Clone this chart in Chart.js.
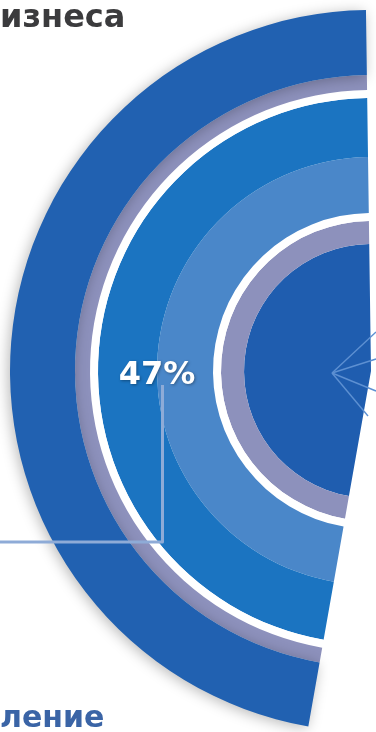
<!DOCTYPE html>
<html lang="ru">
<head>
<meta charset="utf-8">
<title>47%</title>
<script src="https://cdn.jsdelivr.net/npm/chart.js@4.4.1/dist/chart.umd.min.js"></script>
<style>
  html, body { margin: 0; padding: 0; width: 376px; height: 732px; overflow: hidden; background: #fff; }
  #wrap { position: relative; width: 376px; height: 732px; overflow: hidden; }
  #chart { position: absolute; left: 0; top: 0; }
  .title { position: absolute; left: 0; font-family: "DejaVu Sans", Verdana, sans-serif; font-weight: bold; line-height: 30px; white-space: nowrap; }
  #title-top { top: 1px; font-size: 32px; color: #3b3b3d; }
  #title-bottom { top: 702px; font-size: 30px; color: #3a64a6; }
</style>
</head>
<body>
<div id="wrap">
  <canvas id="chart" width="742" height="742"></canvas>
  <div class="title" id="title-top">изнеса</div>
  <div class="title" id="title-bottom">ление</div>
</div>
<script>
// share shown by the half-ring, the rest of the circle is left empty
const shareLabels = ["47%", ""];
const shareValues = [47, 53];

// rings from outside to centre: colour + thickness
const rings = [
  { color: "#2161b1", weight: 65 },
  { color: "#8d91bc", weight: 15 },
  { color: "#ffffff", weight: 8 },
  { color: "#1b74c1", weight: 59 },
  { color: "#4a87c9", weight: 56 },
  { color: "#ffffff", weight: 8 },
  { color: "#8d91bc", weight: 23 },
  { color: "#1f5daf", weight: 127 },
];
const LABEL_RING = 4;

const shadowPlugin = {
  id: "shadow",
  beforeDatasetDraw(chart, args) {
    if (args.index !== 0) return;
    const ctx = chart.ctx;
    ctx.save();
    ctx.shadowColor = "rgba(0, 0, 0, 0.28)";
    ctx.shadowBlur = 14;
    ctx.shadowOffsetX = -2;
    ctx.shadowOffsetY = 2;
  },
  afterDatasetDraw(chart, args) {
    if (args.index === 0) chart.ctx.restore();
  },
};

const labelPlugin = {
  id: "label",
  afterDraw(chart) {
    const ctx = chart.ctx;
    const arc = chart.getDatasetMeta(LABEL_RING).data[0];
    const { x, y, outerRadius } = arc.getProps(["x", "y", "outerRadius"], true);

    // thin fan lines in the centre circle
    ctx.save();
    ctx.strokeStyle = "#5d90d2";
    ctx.lineWidth = 1.4;
    const ox = x - 39, oy = y + 2;
    [[5, -39], [5, -12], [5, 20], [-3, 45]].forEach(([dx, dy]) => {
      ctx.beginPath();
      ctx.moveTo(ox, oy);
      ctx.lineTo(x + dx, y + dy);
      ctx.stroke();
    });
    ctx.restore();

    // label on the left side of the ring
    const lx = x - outerRadius;
    const ly = y;
    ctx.save();
    ctx.strokeStyle = "#8eabd7";
    ctx.lineWidth = 3;
    ctx.lineJoin = "round";
    ctx.beginPath();
    ctx.moveTo(lx + 5.5, ly + 14);
    ctx.lineTo(lx + 5.5, ly + 171);
    ctx.lineTo(-5, ly + 171);
    ctx.stroke();

    ctx.font = 'bold 32px "DejaVu Sans", Verdana, sans-serif';
    ctx.fillStyle = "#ffffff";
    ctx.textAlign = "center";
    ctx.textBaseline = "alphabetic";
    ctx.shadowColor = "rgba(0, 0, 0, 0.35)";
    ctx.shadowBlur = 3;
    ctx.shadowOffsetX = 1;
    ctx.shadowOffsetY = 1;
    ctx.fillText(shareLabels[0], lx, ly + 13);
    ctx.restore();
  },
};

new Chart(document.getElementById("chart"), {
  type: "doughnut",
  data: {
    labels: shareLabels,
    datasets: rings.map((ring) => ({
      data: shareValues,
      backgroundColor: [ring.color, "rgba(0, 0, 0, 0)"],
      borderWidth: 0,
      hoverOffset: 0,
      weight: ring.weight,
    })),
  },
  options: {
    responsive: false,
    animation: false,
    events: [],
    rotation: 190,
    cutout: 0,
    layout: { padding: 10 },
    plugins: {
      legend: { display: false },
      tooltip: { enabled: false },
    },
  },
  plugins: [shadowPlugin, labelPlugin],
});
</script>
</body>
</html>
